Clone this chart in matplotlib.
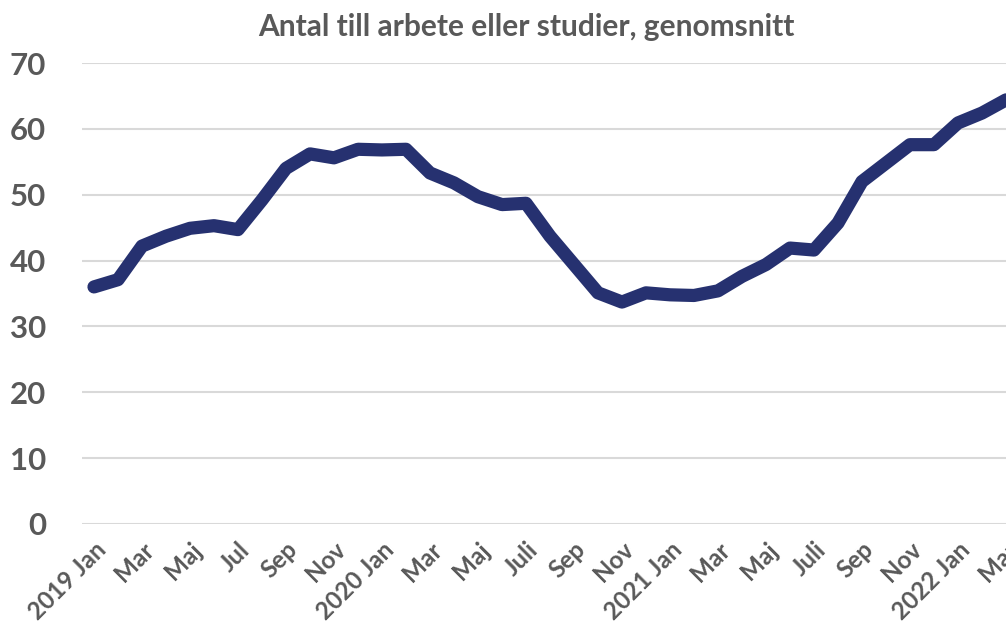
import numpy as np
import matplotlib
matplotlib.use("Agg")
import matplotlib.pyplot as plt

# manadsetiketter, varannan manad visas
months = ["2019 Jan", "Feb", "Mar", "Apr", "Maj", "Jun", "Jul", "Aug", "Sep", "Okt", "Nov", "Dec",
          "2020 Jan", "Feb", "Mar", "Apr", "Maj", "Jun", "Juli", "Aug", "Sep", "Okt", "Nov", "Dec",
          "2021 Jan", "Feb", "Mar", "Apr", "Maj", "Jun", "Juli", "Aug", "Sep", "Okt", "Nov", "Dec",
          "2022 Jan", "Feb", "Mar"]
values = [36.0, 37.1, 42.2, 43.7, 44.9, 45.3, 44.7, 49.2, 54.0, 56.2, 55.6, 56.9,
          56.8, 56.9, 53.3, 51.8, 49.7, 48.5, 48.7, 43.7, 39.4, 35.1, 33.7, 35.1,
          34.8, 34.7, 35.4, 37.6, 39.4, 41.9, 41.6, 45.7, 52.0, 54.8, 57.6, 57.6,
          60.9, 62.4, 64.4]
yticks = [0, 10, 20, 30, 40, 50, 60, 70]

grey = "#595959"
plt.rcParams['font.family'] = ['Lato', 'DejaVu Sans']

fig = plt.figure(figsize=(10.06, 6.32), dpi=100)
ax = fig.add_axes([0.0815, 0.1709, 0.9304, 0.7294])

x = np.arange(len(values))
ax.plot(x, values, color="#263170", lw=9.5, solid_capstyle="round",
        solid_joinstyle="round", zorder=3)

ax.set_xlim(-0.5, len(values) - 0.5)
ax.set_ylim(0, 70)
ax.set_yticks(yticks)
ax.grid(axis="y", color="#D9D9D9", lw=1.5, zorder=0)
for sp in ax.spines.values():
    sp.set_visible(False)

ax.set_xticks(x[::2])
ax.set_xticklabels(months[::2], rotation=45, ha="right", va="top",
                   rotation_mode="anchor", fontsize=17.5, fontweight="bold", color=grey)
ax.tick_params(axis="x", length=0, pad=10)
ax.tick_params(axis="y", length=0, pad=26, labelsize=22.5, labelcolor=grey)
for t in ax.get_yticklabels():
    t.set_fontweight("bold")

fig.text(0.523, 0.958, "Antal till arbete eller studier, genomsnitt",
         ha="center", va="center", fontsize=21.5, fontweight="bold", color=grey)

fig.savefig("out.png", dpi=100)
